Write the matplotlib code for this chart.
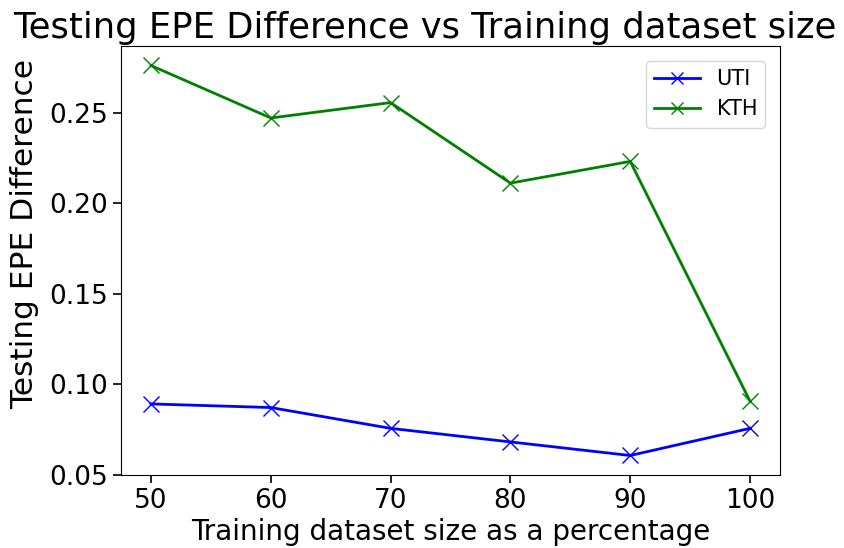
import matplotlib
matplotlib.use('Agg')
import matplotlib.pyplot as plt

sizes = [50, 60, 70, 80, 90, 100]
uti = [0.089, 0.087, 0.0755, 0.068, 0.0605, 0.0755]
kth = [0.276, 0.247, 0.2555, 0.211, 0.223, 0.0905]

fig = plt.figure(figsize=(8.44, 5.48), dpi=100)
ax = fig.add_axes([121/844, 1 - 475/548, 659/844, 429/548])

ax.plot(sizes, uti, color='blue', marker='x', markersize=11, linewidth=2, label='UTI')
ax.plot(sizes, kth, color='green', marker='x', markersize=11, linewidth=2, label='KTH')

ax.set_title('Testing EPE Difference vs Training dataset size', fontsize=25.5, pad=6, x=0.461)
ax.set_xlabel('Training dataset size as a percentage', fontsize=20, labelpad=3)
ax.set_ylabel('Testing EPE Difference', fontsize=22.5)
ax.yaxis.set_label_coords(-0.124, 0.562)
ax.set_yticks([0.05, 0.10, 0.15, 0.20, 0.25])
ax.tick_params(labelsize=19, length=6, width=1.2)
ax.legend(loc='upper right', fontsize=15, handlelength=2.2, markerscale=0.8,
          borderaxespad=0.7)

fig.savefig('out.png', dpi=100)
